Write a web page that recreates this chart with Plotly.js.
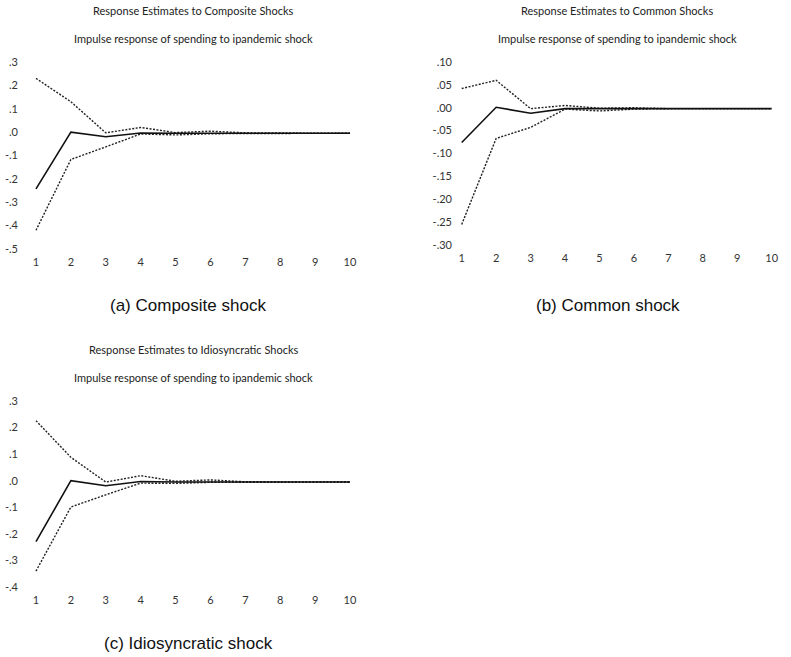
<!DOCTYPE html>
<html><head><meta charset="utf-8">
<script src="https://cdn.plot.ly/plotly-3.0.1.min.js"></script>
<style>html,body{margin:0;padding:0;background:#fff}#chart{width:791px;height:657px}</style>
</head><body><div id="chart"></div>
<script>
const periods = [1,2,3,4,5,6,7,8,9,10];

const compositeResponse = [-0.243, 0.0, -0.02, -0.004, -0.005, -0.004, -0.005, -0.005, -0.005, -0.005];
const compositeUpper    = [0.23, 0.13, -0.003, 0.02, -0.002, 0.004, -0.003, -0.004, -0.004, -0.005];
const compositeLower    = [-0.42, -0.117, -0.063, -0.008, -0.012, -0.007, -0.006, -0.006, -0.005, -0.005];

const commonResponse = [-0.076, 0.001, -0.012, -0.002, -0.002, -0.002, -0.002, -0.002, -0.002, -0.002];
const commonUpper    = [0.042, 0.060, -0.002, 0.005, -0.001, 0.0, -0.002, -0.002, -0.002, -0.002];
const commonLower    = [-0.255, -0.067, -0.043, -0.003, -0.007, -0.003, -0.002, -0.002, -0.002, -0.002];

const idioResponse = [-0.229, 0.0, -0.019, -0.003, -0.005, -0.004, -0.005, -0.005, -0.005, -0.005];
const idioUpper    = [0.226, 0.088, -0.005, 0.019, -0.002, 0.003, -0.004, -0.004, -0.005, -0.005];
const idioLower    = [-0.34, -0.099, -0.053, -0.009, -0.01, -0.006, -0.006, -0.005, -0.005, -0.005];

const ticksA = [0.3, 0.2, 0.1, 0.0, -0.1, -0.2, -0.3, -0.4, -0.5];
const labelsA = [".3", ".2", ".1", ".0", "-.1", "-.2", "-.3", "-.4", "-.5"];
const ticksB = [0.10, 0.05, 0.00, -0.05, -0.10, -0.15, -0.20, -0.25, -0.30];
const labelsB = [".10", ".05", ".00", "-.05", "-.10", "-.15", "-.20", "-.25", "-.30"];
const ticksC = [0.3, 0.2, 0.1, 0.0, -0.1, -0.2, -0.3, -0.4];
const labelsC = [".3", ".2", ".1", ".0", "-.1", "-.2", "-.3", "-.4"];

const mainTitles = ["Response Estimates to Composite Shocks", "Response Estimates to Common Shocks", "Response Estimates to Idiosyncratic Shocks"];
const subTitle = "Impulse response of spending to ipandemic shock";
const captions = ["(a) Composite shock", "(b) Common shock", "(c) Idiosyncratic shock"];

const W = 791, H = 657;
const px = x => x / W, py = y => 1 - y / H;

const solid = {color: '#111', width: 1.6};
const dotted = {color: '#222', width: 1.4, dash: '2px,1.5px'};

function series(y, xa, ya, line) {
  return {x: periods, y: y, xaxis: xa, yaxis: ya, mode: 'lines', line: line, hoverinfo: 'skip', showlegend: false};
}

const data = [
  series(compositeUpper, 'x', 'y', dotted),
  series(compositeLower, 'x', 'y', dotted),
  series(compositeResponse, 'x', 'y', solid),
  series(commonUpper, 'x2', 'y2', dotted),
  series(commonLower, 'x2', 'y2', dotted),
  series(commonResponse, 'x2', 'y2', solid),
  series(idioUpper, 'x3', 'y3', dotted),
  series(idioLower, 'x3', 'y3', dotted),
  series(idioResponse, 'x3', 'y3', solid)
];

const tickFont = {family: 'Lato, "Open Sans", sans-serif', size: 11, color: '#333'};
function xax(domain, range, anchor, standoff) {
  return {domain: domain, range: range, anchor: anchor, tickvals: periods, ticktext: periods.map(String),
    showgrid: false, zeroline: false, showline: false, ticks: '', tickfont: tickFont, fixedrange: true,
    ticklabelstandoff: standoff};
}
function yax(domain, range, vals, texts, anchor) {
  return {domain: domain, range: range, anchor: anchor, tickvals: vals, ticktext: texts,
    showgrid: false, zeroline: false, showline: false, ticks: '', tickfont: tickFont, fixedrange: true};
}

const titleFont = {family: 'Lato, "Open Sans", sans-serif', size: 11, color: '#222'};
const capFont = {family: '"Liberation Sans", Arial, sans-serif', size: 17, color: '#111'};
function ann(text, x, y, font) {
  return {text: text, x: px(x), y: py(y), xref: 'paper', yref: 'paper', showarrow: false,
    xanchor: 'center', yanchor: 'middle', font: font};
}

const layout = {
  width: W, height: H, margin: {l: 0, r: 0, t: 0, b: 0},
  paper_bgcolor: '#fff', plot_bgcolor: '#fff', showlegend: false,
  xaxis: xax([px(19), px(360)], [0.513, 10.287], 'y', 5),
  yaxis: yax([py(249), py(62)], [-0.5, 0.3], ticksA, labelsA, 'x'),
  xaxis2: xax([px(453), px(781)], [0.747, 10.27], 'y2', 5),
  yaxis2: yax([py(245), py(62)], [-0.30, 0.10], ticksB, labelsB, 'x2'),
  xaxis3: xax([px(19), px(360)], [0.513, 10.287], 'y3', 5),
  yaxis3: yax([py(587), py(401)], [-0.4, 0.3], ticksC, labelsC, 'x3'),
  annotations: [
    ann(mainTitles[0], 193, 10, titleFont),
    ann(subTitle, 193, 38, titleFont),
    ann(captions[0], 188, 305, capFont),
    ann(mainTitles[1], 617, 10, titleFont),
    ann(subTitle, 617, 38, titleFont),
    ann(captions[1], 608, 305, capFont),
    ann(mainTitles[2], 193, 349, titleFont),
    ann(subTitle, 193, 377, titleFont),
    ann(captions[2], 188, 643, capFont)
  ]
};

Plotly.newPlot('chart', data, layout, {displayModeBar: false, staticPlot: true});
</script></body></html>
